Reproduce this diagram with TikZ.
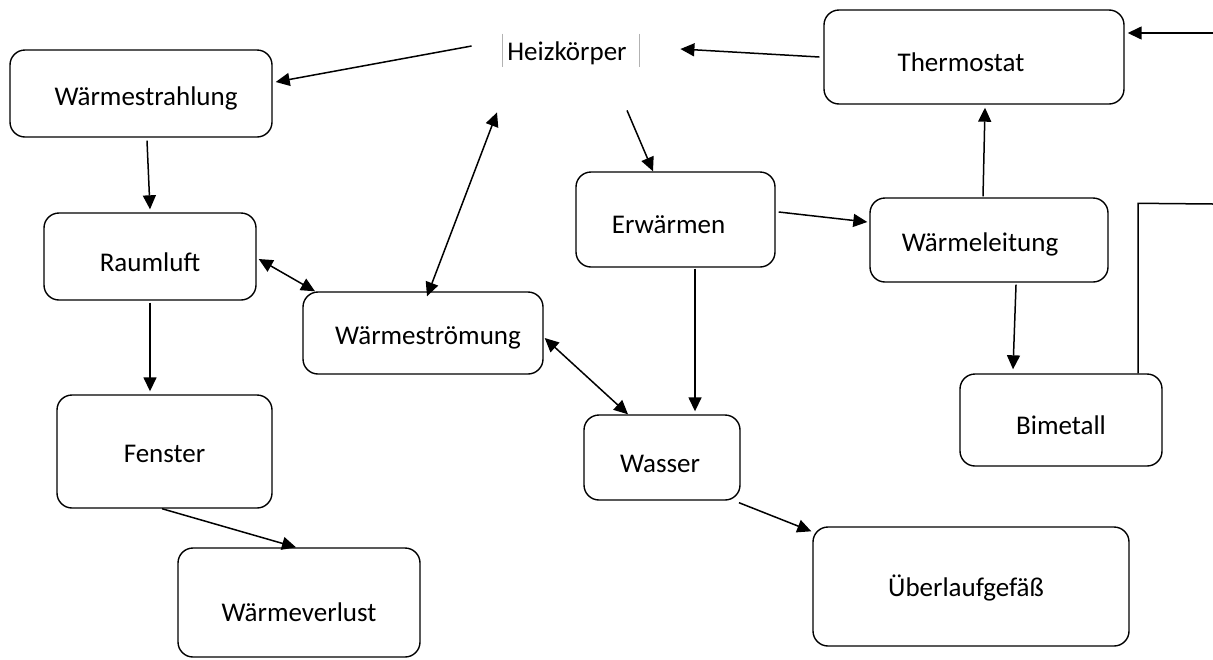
\documentclass[tikz,border=0pt]{standalone}
\usepackage{fontspec}
\setmainfont{Carlito}
\usetikzlibrary{arrows.meta,calc}
\begin{document}
\begin{tikzpicture}[x=0.5pt,y=-0.5pt,
  box/.style={draw, line width=0.7pt, rounded corners=7.5pt, inner sep=0pt, text depth=0pt, font=\fontsize{13.5}{16}\selectfont},
  lbl/.style={inner sep=0pt, text depth=0pt, font=\fontsize{13.5}{16}\selectfont},
  conn/.style={line width=0.75pt, -{Triangle[length=7pt,width=6.5pt]}},
  bicon/.style={line width=0.75pt, {Triangle[length=7pt,width=6.5pt]}-{Triangle[length=7pt,width=6.5pt]}},
  plain/.style={line width=0.75pt},
  thin/.style={draw=gray!60, line width=0.4pt}]
\useasboundingbox (0,0) rectangle (1213,659);
% nodes
\node[lbl, minimum width=68pt, minimum height=16.5pt, text height=9.7pt] (heiz) at (571,50.5) {Heizkörper\hspace*{4pt}};
\draw[thin] (heiz.north west) -- (heiz.south west);
\draw[thin] (heiz.north east) -- (heiz.south east);
\node[box, minimum width=131pt, minimum height=43.5pt, text height=11.7pt] (strahl) at (141,93.5) {\hspace*{5pt}Wärmestrahlung};
\node[box, minimum width=150pt, minimum height=47pt, text height=14pt] (thermo) at (974,57) {Thermostat\hspace*{13pt}};
\node[box, minimum width=106pt, minimum height=43.5pt, text height=15pt] (raum) at (150,256.5) {Raumluft};
\node[box, minimum width=99.5pt, minimum height=47.5pt, text height=14pt] (erw) at (675.5,219.5) {Erwärmen\hspace*{7pt}};
\node[box, minimum width=119pt, minimum height=42pt, text height=11.7pt] (leit) at (989,240) {Wärmeleitung\hspace*{9pt}};
\node[box, minimum width=120pt, minimum height=41pt, text height=11.3pt] (stroem) at (423,333) {\hspace*{5pt}Wärmeströmung};
\node[box, minimum width=107.5pt, minimum height=56.5pt, text height=10.5pt] (fenster) at (164.5,451.5) {Fenster};
\node[box, minimum width=78pt, minimum height=42.5pt, text height=14.5pt] (wasser) at (662,457.5) {Wasser\hspace*{2pt}};
\node[box, minimum width=101pt, minimum height=46pt, text height=14.3pt] (bim) at (1061,420) {Bimetall};
\node[box, minimum width=121pt, minimum height=54.5pt, text height=19.3pt] (verlust) at (299,602.5) {Wärmeverlust};
\node[box, minimum width=158pt, minimum height=59.5pt, text height=10pt] (ueber) at (971,586.5) {Überlaufgefäß\hspace*{5pt}};
\coordinate (edgeT) at (1213,33);
\coordinate (edgeB) at (1213,204);
% connectors
\draw[conn] ($(heiz.west)+(-31,-4.5)$) -- ($(strahl.east)+(3,-11.5)$);
\draw[conn] ($(thermo.west)+(-4,0)$) -- ($(heiz.east)+(41,-1.5)$);
\draw[conn] (edgeT) -- ($(thermo.east)+(3,-24)$);
\draw[conn] ($(strahl.south)+(6,3)$) -- ($(raum.north)+(0,-3)$);
\draw[bicon] ($(raum.east)+(2,2.5)$) -- ($(stroem.north)+(-108,0)$);
\draw[bicon] ($(stroem.north)+(4,5)$) -- ($(heiz.south)+(-74,45)$);
\draw[conn] ($(heiz.south)+(56,43)$) -- ($(erw.north)+(-22.5,0)$);
\draw[conn] ($(erw.east)+(3,-7.5)$) -- ($(leit.west)+(-2,-18)$);
\draw[conn] ($(leit.north)+(-6,-1)$) -- ($(thermo.south)+(11,3)$);
\draw[conn] ($(leit.south)+(27,2)$) -- ($(bim.north)+(-48,-4)$);
\draw[conn] ($(erw.south)+(19.5,1)$) -- ($(wasser.north)+(33,-3)$);
\draw[bicon] ($(stroem.east)+(1,5)$) -- ($(wasser.north)+(-34,0)$);
\draw[conn] ($(raum.south)+(0,2)$) -- ($(fenster.north)+(-14.5,-3)$);
\draw[conn] ($(fenster.south)+(-2.5,0)$) -- ($(verlust.north)+(-3,0)$);
\draw[conn] ($(wasser.south)+(77,2)$) -- ($(ueber.north west)+(-1,5)$);
\draw[plain] ($(bim.north)+(77,0)$) -- ++(0,-170) -- (edgeB);
\end{tikzpicture}
\end{document}
